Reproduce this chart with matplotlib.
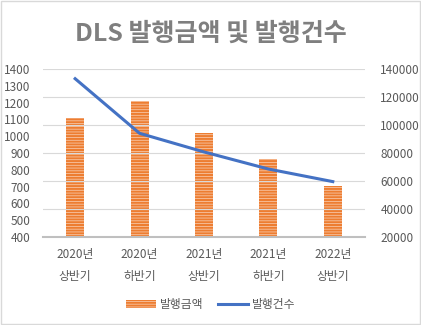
import matplotlib.pyplot as plt
from matplotlib.patches import Rectangle

plt.rcParams['font.family'] = ['Noto Sans CJK KR', 'DejaVu Sans']
plt.rcParams['hatch.linewidth'] = 0.5

categories = ['2020년\n상반기', '2020년\n하반기', '2021년\n상반기', '2021년\n하반기', '2022년\n상반기']
amount = [1110, 1210, 1020, 865, 705]          # 발행금액 (left axis)
count = [133000, 94000, 80700, 68500, 59500]    # 발행건수 (right axis)

fig = plt.figure(figsize=(4.21, 3.25), dpi=100)
ax = fig.add_axes([0.102, 0.271, 0.765, 0.517])
ax2 = ax.twinx()

x = range(len(categories))
ax.bar(x, amount, width=0.28, color='#ED7D31', edgecolor='#F9D3BA', linewidth=0,
       hatch='------', label='발행금액', zorder=2)
ax2.plot(x, count, color='#4472C4', lw=2.2, label='발행건수', zorder=3)

ax.set_ylim(400, 1400)
ax.set_yticks(range(400, 1401, 100))
ax2.set_ylim(20000, 140000)
ax2.set_yticks(range(20000, 140001, 20000))
ax.set_xlim(-0.5, 4.5)
ax.set_xticks(list(x))
ax.set_xticklabels(categories, linespacing=1.9)

# gridlines follow the right axis ticks
for g in range(20000, 140001, 20000):
    ax2.axhline(g, color='#d9d9d9', lw=0.8, zorder=0)

for a in (ax, ax2):
    for s in a.spines.values():
        s.set_visible(False)
    a.tick_params(length=0, colors='#595959', labelsize=8.5)
ax.spines['bottom'].set_visible(True)
ax.spines['bottom'].set_color('#bfbfbf')
ax.spines['bottom'].set_linewidth(1.5)
ax.tick_params(axis='y', pad=9)
ax.tick_params(axis='x', pad=8)
ax2.tick_params(axis='y', pad=11)

fig.text(0.5, 0.897, 'DLS 발행금액 및 발행건수', ha='center', va='center',
         fontsize=18, fontweight='bold', color='#7f7f7f')

h1, l1 = ax.get_legend_handles_labels()
h2, l2 = ax2.get_legend_handles_labels()
fig.legend(h1 + h2, l1 + l2, loc='center', bbox_to_anchor=(0.5, 0.063), ncol=2,
           frameon=False, fontsize=8.5, labelcolor='#595959', handlelength=2.6,
           handleheight=0.6, columnspacing=1.2, handletextpad=0.3)

fig.add_artist(Rectangle((0.002, 0.003), 0.996, 0.994, transform=fig.transFigure,
                         fill=False, edgecolor='#d9d9d9', lw=1))

fig.savefig('out.png', dpi=100)
